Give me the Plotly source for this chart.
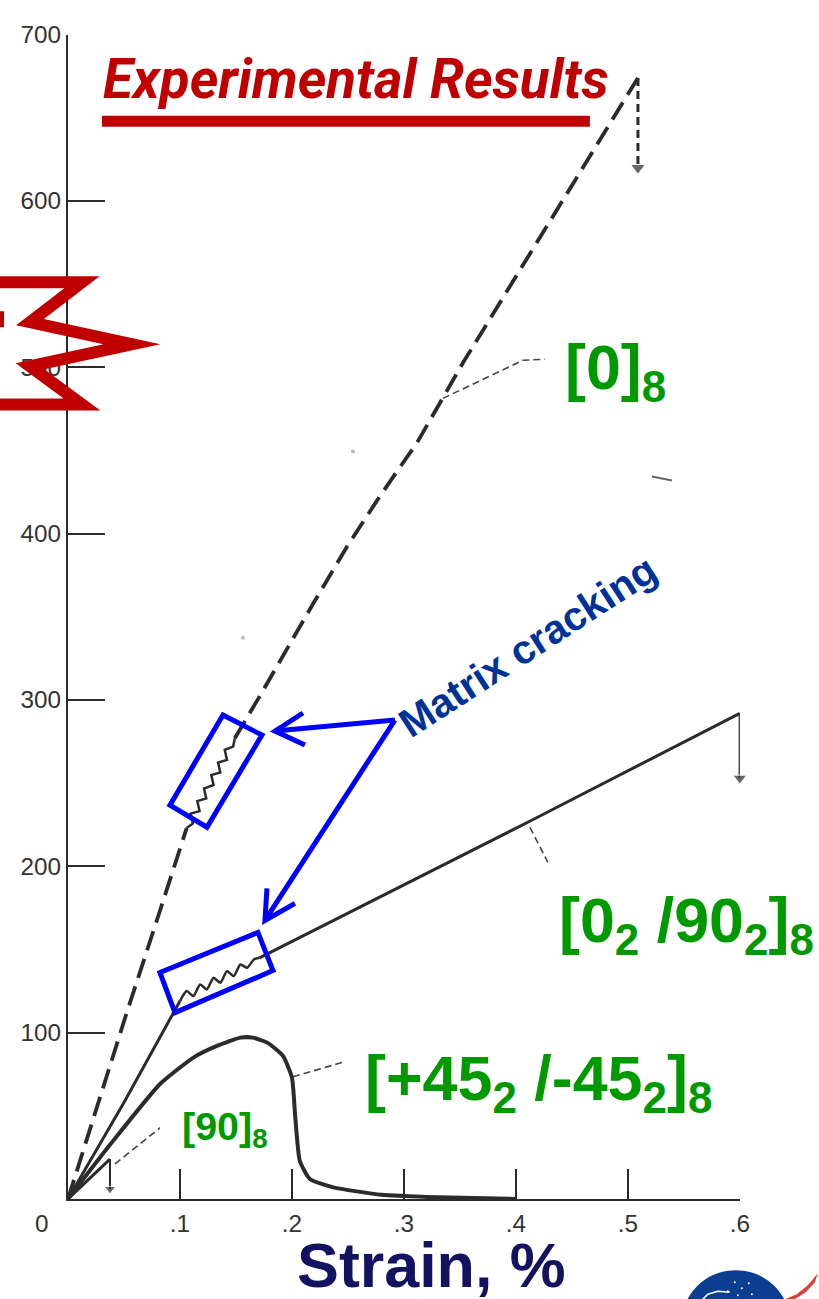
import math
import plotly.graph_objects as go

W, H = 819, 1299

# ---------------- data: stress (MPa) vs strain (%) ----------------
# [0]8 laminate (dashed): before, during and after matrix cracking
s0_pre = [0, 0.025, 0.052, 0.082, 0.106]
t0_pre = [0, 54, 111, 173, 223]
s0_crack = [0.106, 0.1115, 0.1095, 0.1175, 0.1155, 0.1235, 0.1215, 0.1300,
            0.1280, 0.1360, 0.1340, 0.1420, 0.1400, 0.1475, 0.149]
t0_crack = [223, 225.7, 231.7, 233.2, 239.2, 240.8, 246.8, 248.9,
            254.9, 256.5, 262.4, 264.0, 270.0, 272.0, 277]
s0_post = [0.149, 0.171, 0.219, 0.249, 0.279, 0.312, 0.353, 0.383,
           0.4125, 0.442, 0.472, 0.509]
t0_post = [277, 302, 358, 392, 423, 455, 503, 536, 568, 601, 634, 674]
fail0 = {"strain": 0.509, "from": 674, "to": 620}

# [0_2/90_2]8 laminate (solid)
s090_pre = [0, 0.05, 0.100]
t090_pre = [0, 58, 119]
s090_crack = [0.100, 0.106, 0.112, 0.118, 0.124, 0.130, 0.136, 0.142,
              0.148, 0.154, 0.160, 0.166, 0.171]
t090_crack = [119, 125, 122, 129, 126, 133, 130, 137, 134, 141, 139, 144, 145]
s090_post = [0.171, 0.415, 0.600]
t090_post = [145, 228, 292]
fail090 = {"strain": 0.600, "from": 292, "to": 253}

# [+45_2/-45_2]8 laminate (solid)
s45 = [0, 0.038, 0.082, 0.112, 0.133, 0.154, 0.165, 0.178, 0.192, 0.200,
       0.203, 0.207, 0.216, 0.237, 0.28, 0.33, 0.40]
t45 = [0, 33, 69, 85, 92, 97, 97, 94, 86, 73, 49, 23, 12, 7, 2.5, 1, 0]

# [90]8 laminate (solid, short)
s90 = [0, 0.0375]
t90 = [0, 24]
fail90 = {"strain": 0.0375, "from": 24, "to": 6}

x_ticks = [0, 0.1, 0.2, 0.3, 0.4, 0.5, 0.6]
x_tick_text = ["", ".1", ".2", ".3", ".4", ".5", ".6"]
y_ticks = [100, 200, 300, 400, 500, 600, 700]
y_tick_text = ["100", "200", "300", "400", "500", "600", "700"]

# ---------------- styling ----------------
INK = "#2b2b2b"
GREEN = "#009900"
RED = "#C00000"
BLUE = "#0000FF"
NAVY_TXT = "#003399"
SANS = "Liberation Sans, Arial, DejaVu Sans"
NARROW = "Roboto, Liberation Sans, Arial"

# layout frame: sheet positions are given in a 819x1299 frame that the page
# shows at scale K, shifted down by DY
K = 0.988
DY = 14.4


def fxy(x, y):
    return x / K, (y - DY) / K


def px(x, y):
    """Sheet position -> paper coordinates."""
    X, Y = fxy(x, y)
    return X / W, 1 - Y / H


def fs(size):
    return round(size / K, 1)


def path(points, close=False):
    parts = []
    for i, (x, y) in enumerate(points):
        X, Y = px(x, y)
        parts.append(("M" if i == 0 else "L") + f"{X:.5f},{Y:.5f}")
    return " ".join(parts) + (" Z" if close else "")


def band(points, hw):
    """Mitered outline polygon around a polyline of half-width hw."""
    left, right = [], []
    n = len(points)
    for i in range(n):
        x, y = points[i]
        dirs = []
        if i > 0:
            dx, dy = x - points[i - 1][0], y - points[i - 1][1]
            L = math.hypot(dx, dy)
            dirs.append((dx / L, dy / L))
        if i < n - 1:
            dx, dy = points[i + 1][0] - x, points[i + 1][1] - y
            L = math.hypot(dx, dy)
            dirs.append((dx / L, dy / L))
        normals = [(-d[1], d[0]) for d in dirs]
        mx = sum(nm[0] for nm in normals)
        my = sum(nm[1] for nm in normals)
        ml = math.hypot(mx, my)
        mx, my = mx / ml, my / ml
        k = hw / (mx * normals[0][0] + my * normals[0][1])
        left.append((x + mx * k, y + my * k))
        right.append((x - mx * k, y - my * k))
    return left + right[::-1]


fig = go.Figure()

line_dark = dict(color=INK, width=3)
DASH = "20px,9px"

# [0]8
fig.add_trace(go.Scatter(x=s0_pre, y=t0_pre, mode="lines",
                         line=dict(color=INK, width=3.8, dash=DASH)))
fig.add_trace(go.Scatter(x=s0_crack, y=t0_crack, mode="lines",
                         line=dict(color=INK, width=2.5)))
fig.add_trace(go.Scatter(x=s0_post, y=t0_post, mode="lines",
                         line=dict(color=INK, width=3.8, dash=DASH)))
fig.add_trace(go.Scatter(x=[fail0["strain"]] * 2, y=[fail0["from"], fail0["to"]],
                         mode="lines+markers", cliponaxis=False,
                         line=dict(color=INK, width=3, dash="8px,5px"),
                         marker=dict(symbol=["circle", "triangle-down"], size=[0, 13],
                                     color=INK)))

# [0_2/90_2]8
fig.add_trace(go.Scatter(x=s090_pre, y=t090_pre, mode="lines", line=line_dark))
fig.add_trace(go.Scatter(x=s090_crack, y=t090_crack, mode="lines",
                         line=dict(color=INK, width=2.5, shape="spline", smoothing=0.6)))
fig.add_trace(go.Scatter(x=s090_post, y=t090_post, mode="lines", line=line_dark))
fig.add_trace(go.Scatter(x=[fail090["strain"]] * 2, y=[fail090["from"], fail090["to"]],
                         mode="lines+markers", cliponaxis=False,
                         line=dict(color=INK, width=2.5),
                         marker=dict(symbol=["circle", "triangle-down"], size=[0, 12],
                                     color=INK)))

# [+45_2/-45_2]8
fig.add_trace(go.Scatter(x=s45, y=t45, mode="lines",
                         line=dict(color=INK, width=4, shape="spline", smoothing=0.5)))

# [90]8
fig.add_trace(go.Scatter(x=s90, y=t90, mode="lines", line=line_dark))
fig.add_trace(go.Scatter(x=[fail90["strain"]] * 2, y=[fail90["from"], fail90["to"]],
                         mode="lines+markers", cliponaxis=False,
                         line=dict(color=INK, width=2),
                         marker=dict(symbol=["circle", "triangle-down"], size=[0, 10],
                                     color=INK)))

x_left, _ = fxy(68, 0)
x_right, _ = fxy(740, 0)
_, y_bottom = fxy(0, 1198)
_, y_top = fxy(0, 36)

fig.update_layout(
    width=W, height=H, margin=dict(l=0, r=0, t=0, b=0),
    paper_bgcolor="white", plot_bgcolor="rgba(0,0,0,0)", showlegend=False,
)
fig.update_xaxes(
    domain=[x_left / W, x_right / W], range=[0, 0.6], showgrid=False, zeroline=False,
    showline=True, linecolor=INK, linewidth=2,
    ticks="inside", ticklen=30, tickwidth=2, tickcolor=INK,
    tickvals=x_ticks, ticktext=x_tick_text, ticklabelstandoff=2,
    tickfont=dict(family=SANS, size=fs(24), color="#333333"),
)
fig.update_yaxes(
    domain=[1 - y_bottom / H, 1 - y_top / H], range=[0, 700], showgrid=False,
    zeroline=False, showline=True, linecolor=INK, linewidth=2,
    ticks="inside", ticklen=37, tickwidth=2, tickcolor=INK,
    tickvals=y_ticks, ticktext=y_tick_text, ticklabelstandoff=0,
    tickfont=dict(family=SANS, size=fs(24), color="#333333"),
)

shapes = []
thin = dict(color="#444444", width=1.6, dash="7px,4px")


def add_path(pts, line, close=False, fill=None, layer=None):
    d = dict(type="path", xref="paper", yref="paper", path=path(pts, close), line=line)
    if fill:
        d["fillcolor"] = fill
    if layer:
        d["layer"] = layer
    shapes.append(d)


def add_box(kind, x0, y0, x1, y1, fill, layer=None):
    a0, b0 = px(x0, y0)
    a1, b1 = px(x1, y1)
    d = dict(type=kind, xref="paper", yref="paper", x0=a0, y0=b0, x1=a1, y1=b1,
             fillcolor=fill, line=dict(width=0))
    if layer:
        d["layer"] = layer
    shapes.append(d)


# label leaders
add_path([(443, 399), (523, 361), (545, 360)], thin)
add_path([(530, 827), (548, 862)], thin)
add_path([(293, 1076), (345, 1061)], thin)
add_path([(115, 1163), (165, 1123)], thin)

# stray marks of the printed sheet
add_path([(652, 477), (672, 481)], dict(color="#666666", width=2))
for cx, cy in [(353, 452), (243, 638)]:
    add_box("circle", cx - 2, cy - 2, cx + 2, cy + 2, "#bbbbbb")

# white patch behind the [90]8 label
add_box("rect", 160, 1086, 289, 1163, "white", layer="above")

# matrix-cracking boxes and arrows
add_path([(223, 715), (262, 735), (207, 827), (170, 805)], dict(color=BLUE, width=5), close=True)
add_path([(160, 972), (258, 932), (273, 970), (175, 1012)], dict(color=BLUE, width=5), close=True)
for pts in ([(395, 720), (275, 731)], [(303, 713), (275, 731), (305, 745)],
            [(395, 720), (265, 920)], [(267, 888), (265, 920), (295, 903)]):
    add_path(pts, dict(color=BLUE, width=5))

# title underline
add_box("rect", 102, 117, 590, 128, RED)

# red call-out burst at the left edge
burst = [(-12, 283), (82, 283), (30, 323), (132, 345), (30, 367), (82, 405), (-12, 405)]
add_path(band(burst, 6), dict(width=0), close=True, fill=RED)
add_box("rect", -2, 312, 4, 328, RED)

# agency emblem in the corner
add_box("circle", 681, 1269, 791, 1379, "#0B3D91")
for cx, cy in [(735, 1281), (742, 1287), (749, 1282), (728, 1290), (752, 1293), (738, 1294)]:
    add_box("circle", cx - 1, cy - 1, cx + 1, cy + 1, "white")
add_path([(702, 1299), (708, 1293), (718, 1290), (730, 1291)], dict(color="white", width=1.5))
add_path([(818, 1272), (808, 1284), (797, 1293), (783, 1299),
          (793, 1299), (806, 1291), (815, 1281)], dict(width=0), close=True, fill="#E03C31")

fig.update_layout(shapes=shapes)

ann = []


def label(text, x, y, size, color, family=SANS, xanchor="left", yanchor="middle", angle=0):
    X, Y = px(x, y)
    ann.append(dict(text=text, x=X, y=Y, xref="paper", yref="paper", showarrow=False,
                    xanchor=xanchor, yanchor=yanchor, textangle=angle,
                    font=dict(family=family, size=fs(size), color=color)))


label("<b><i>Experimental Results</i></b>", 101, 80, 54, RED, family=NARROW)
label("<b>[0]<sub>8</sub></b>", 563, 372, 62, GREEN)
label("<b>[0<sub>2</sub> /90<sub>2</sub>]<sub>8</sub></b>", 557, 924, 62, GREEN)
label("<b>[+45<sub>2</sub> /-45<sub>2</sub>]<sub>8</sub></b>", 363, 1082, 62, GREEN)
label("<b>[90]<sub>8</sub></b>", 180, 1128, 39, GREEN)
label("<b>Matrix cracking</b>", 528, 646, 40, NAVY_TXT, xanchor="center", angle=-33)
label("<b>Strain, %</b>", 432, 1264, 62, "#121260", xanchor="center")
label("0", 42, 1222, 24, "#333333", xanchor="center")

fig.update_layout(annotations=ann)

fig.write_html("out.html")
